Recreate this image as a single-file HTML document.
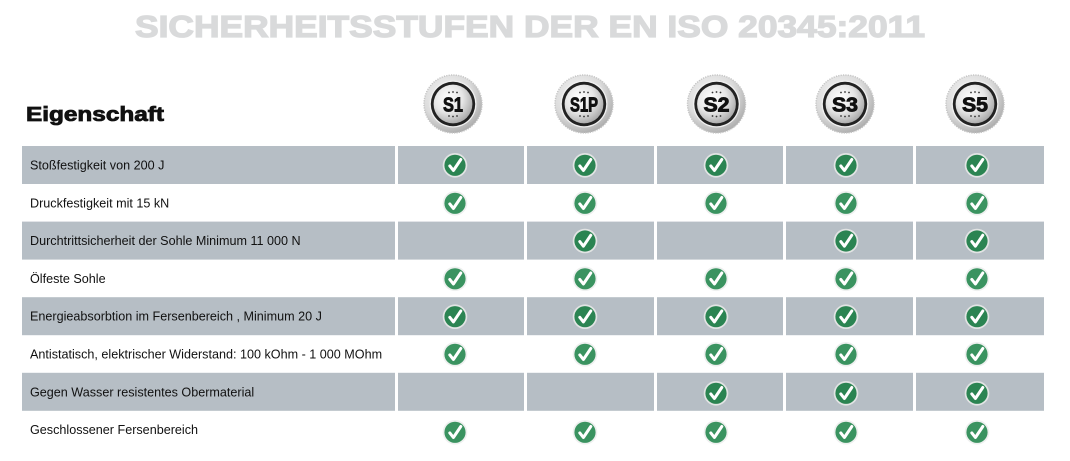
<!DOCTYPE html>
<html>
<head>
<meta charset="utf-8">
<style>
html,body{margin:0;padding:0;background:#fff;}
body{width:1070px;height:461px;overflow:hidden;}
svg{display:block;}
.lbl{font-family:"Liberation Sans",Arial,sans-serif;font-size:12.6px;fill:#111;}
</style>
</head>
<body>
<svg width="1070" height="461" viewBox="0 0 1070 461" xmlns="http://www.w3.org/2000/svg">
<defs>
  <radialGradient id="rim" cx="40%" cy="35%" r="70%">
    <stop offset="0" stop-color="#f7f7f7"/>
    <stop offset="0.6" stop-color="#dcdcdc"/>
    <stop offset="1" stop-color="#a8a8a8"/>
  </radialGradient>
  <radialGradient id="disc" cx="38%" cy="35%" r="75%">
    <stop offset="0" stop-color="#ffffff"/>
    <stop offset="0.5" stop-color="#e6e6e6"/>
    <stop offset="1" stop-color="#9c9c9c"/>
  </radialGradient>
  <g id="badge">
    <circle r="29" fill="url(#rim)" stroke="#c4c4c4" stroke-width="1.4" stroke-dasharray="1.2 1.2"/>
    <circle r="23.5" fill="#f0f0f0"/>
    <circle r="22.2" fill="#222"/>
    <circle r="19.4" fill="url(#disc)"/>
    <g fill="#333">
      <circle cx="-4" cy="-11.5" r="0.9"/><circle cx="0" cy="-12" r="0.9"/><circle cx="4" cy="-11.5" r="0.9"/>
      <circle cx="-4" cy="12" r="0.9"/><circle cx="0" cy="12.5" r="0.9"/><circle cx="4" cy="12" r="0.9"/>
    </g>
  </g>
  <g id="chkD">
    <circle r="12.3" fill="#e2e4e4"/>
    <circle r="10.6" fill="#2b8452"/>
    <path d="M-5.2,0.6 L-1.6,5.2 L5.8,-5.8" fill="none" stroke="#fff" stroke-width="3" stroke-linecap="round" stroke-linejoin="round"/>
  </g>
  <g id="chkL">
    <circle r="12.3" fill="#eef0ef"/>
    <circle r="10.6" fill="#3a9360"/>
    <path d="M-5.2,0.6 L-1.6,5.2 L5.8,-5.8" fill="none" stroke="#fff" stroke-width="3" stroke-linecap="round" stroke-linejoin="round"/>
  </g>
</defs>

<!-- Title -->
<text x="135" y="37" font-family="'Liberation Sans',Arial,sans-serif" font-weight="bold" font-size="31" fill="#d9dadb" stroke="#d9dadb" stroke-width="1.3" textLength="790" lengthAdjust="spacingAndGlyphs">SICHERHEITSSTUFEN DER EN ISO 20345:2011</text>

<!-- Eigenschaft -->
<text x="26" y="121" font-family="'Liberation Sans',Arial,sans-serif" font-weight="bold" font-size="20" fill="#111" stroke="#111" stroke-width="0.8" textLength="138" lengthAdjust="spacingAndGlyphs">Eigenschaft</text>

<!-- Badges -->
<g font-family="'Liberation Sans',Arial,sans-serif" font-weight="bold" font-size="20" fill="#111" text-anchor="middle">
  <g transform="translate(453,104)"><use href="#badge"/><text x="0" y="7.3" textLength="20" lengthAdjust="spacingAndGlyphs" stroke="#111" stroke-width="0.9">S1</text></g>
  <g transform="translate(584,104)"><use href="#badge"/><text x="0" y="7.3" textLength="28" lengthAdjust="spacingAndGlyphs" stroke="#111" stroke-width="0.9">S1P</text></g>
  <g transform="translate(716.5,104)"><use href="#badge"/><text x="0" y="7.3" textLength="26" lengthAdjust="spacingAndGlyphs" stroke="#111" stroke-width="0.9">S2</text></g>
  <g transform="translate(845,104)"><use href="#badge"/><text x="0" y="7.3" textLength="26" lengthAdjust="spacingAndGlyphs" stroke="#111" stroke-width="0.9">S3</text></g>
  <g transform="translate(975,104)"><use href="#badge"/><text x="0" y="7.3" textLength="26" lengthAdjust="spacingAndGlyphs" stroke="#111" stroke-width="0.9">S5</text></g>
</g>

<!-- Gray rows -->
<g fill="#b6bec5">
  <rect x="22" y="146" width="373" height="38"/>
  <rect x="398" y="146" width="126" height="38"/>
  <rect x="527" y="146" width="127" height="38"/>
  <rect x="657" y="146" width="126" height="38"/>
  <rect x="786" y="146" width="127" height="38"/>
  <rect x="916" y="146" width="128" height="38"/>

  <rect x="22" y="221.6" width="373" height="38"/>
  <rect x="398" y="221.6" width="126" height="38"/>
  <rect x="527" y="221.6" width="127" height="38"/>
  <rect x="657" y="221.6" width="126" height="38"/>
  <rect x="786" y="221.6" width="127" height="38"/>
  <rect x="916" y="221.6" width="128" height="38"/>

  <rect x="22" y="297.2" width="373" height="38"/>
  <rect x="398" y="297.2" width="126" height="38"/>
  <rect x="527" y="297.2" width="127" height="38"/>
  <rect x="657" y="297.2" width="126" height="38"/>
  <rect x="786" y="297.2" width="127" height="38"/>
  <rect x="916" y="297.2" width="128" height="38"/>

  <rect x="22" y="372.8" width="373" height="38"/>
  <rect x="398" y="372.8" width="126" height="38"/>
  <rect x="527" y="372.8" width="127" height="38"/>
  <rect x="657" y="372.8" width="126" height="38"/>
  <rect x="786" y="372.8" width="127" height="38"/>
  <rect x="916" y="372.8" width="128" height="38"/>
</g>

<!-- Labels -->
<text class="lbl" x="30" y="169.5">Stoßfestigkeit von 200 J</text>
<text class="lbl" x="30" y="207.3">Druckfestigkeit mit 15 kN</text>
<text class="lbl" x="30" y="245.1">Durchtrittsicherheit der Sohle Minimum 11 000 N</text>
<text class="lbl" x="30" y="282.9">Ölfeste Sohle</text>
<text class="lbl" x="30" y="320.7">Energieabsorbtion im Fersenbereich , Minimum 20 J</text>
<text class="lbl" x="30" y="358.5">Antistatisch, elektrischer Widerstand: 100 kOhm - 1 000 MOhm</text>
<text class="lbl" x="30" y="396.3">Gegen Wasser resistentes Obermaterial</text>
<text class="lbl" x="30" y="434.1">Geschlossener Fersenbereich</text>

<!-- Checks row 1 (gray) -->
<use href="#chkD" x="455" y="165.3"/><use href="#chkD" x="585" y="165.3"/><use href="#chkD" x="716" y="165.3"/><use href="#chkD" x="846" y="165.3"/><use href="#chkD" x="977" y="165.3"/>
<!-- row 2 (white) -->
<use href="#chkL" x="455" y="203.3"/><use href="#chkL" x="585" y="203.3"/><use href="#chkL" x="716" y="203.3"/><use href="#chkL" x="846" y="203.3"/><use href="#chkL" x="977" y="203.3"/>
<!-- row 3 (gray) -->
<use href="#chkD" x="585" y="241"/><use href="#chkD" x="846" y="241"/><use href="#chkD" x="977" y="241"/>
<!-- row 4 (white) -->
<use href="#chkL" x="455" y="278.8"/><use href="#chkL" x="585" y="278.8"/><use href="#chkL" x="716" y="278.8"/><use href="#chkL" x="846" y="278.8"/><use href="#chkL" x="977" y="278.8"/>
<!-- row 5 (gray) -->
<use href="#chkD" x="455" y="316.7"/><use href="#chkD" x="585" y="316.7"/><use href="#chkD" x="716" y="316.7"/><use href="#chkD" x="846" y="316.7"/><use href="#chkD" x="977" y="316.7"/>
<!-- row 6 (white) -->
<use href="#chkL" x="455" y="354.3"/><use href="#chkL" x="585" y="354.3"/><use href="#chkL" x="716" y="354.3"/><use href="#chkL" x="846" y="354.3"/><use href="#chkL" x="977" y="354.3"/>
<!-- row 7 (gray) -->
<use href="#chkD" x="716" y="393.3"/><use href="#chkD" x="846" y="393.3"/><use href="#chkD" x="977" y="393.3"/>
<!-- row 8 (white) -->
<use href="#chkL" x="455" y="432.3"/><use href="#chkL" x="585" y="432.3"/><use href="#chkL" x="716" y="432.3"/><use href="#chkL" x="846" y="432.3"/><use href="#chkL" x="977" y="432.3"/>
</svg>
</body>
</html>
